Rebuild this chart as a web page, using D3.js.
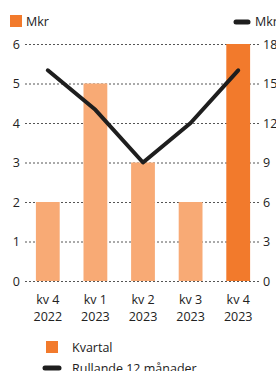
<!DOCTYPE html>
<html>
<head>
<meta charset="utf-8">
<script src="https://cdn.jsdelivr.net/npm/d3@7"></script>
<style>
  body { margin: 0; background: #fff; }
  text { font-family: "Open Sans", "Noto Sans", sans-serif; fill: #222; }
</style>
</head>
<body>
<div class="canvas"></div>
<script>
// chart data
const quarters = ['kv 4|2022', 'kv 1|2023', 'kv 2|2023', 'kv 3|2023', 'kv 4|2023'];
const quarterly = [2, 5, 3, 2, 6];      // Mkr, left axis
const rolling12 = [16, 13, 9, 12, 16];  // Mkr, right axis
const leftTicks = [0, 1, 2, 3, 4, 5, 6];
const rightTicks = [0, 3, 6, 9, 12, 15, 18];

const dims = { width: 276, height: 371 };
const plot = { top: 44, bottom: 281, left: 24, right: 262 };

const svg = d3.select('.canvas')
    .append('svg')
    .attr('width', dims.width)
    .attr('height', dims.height);

const x = d3.scaleBand()
    .domain(quarters)
    .range([plot.left, plot.right])
    .paddingInner(0.5)
    .paddingOuter(0.25);

const yL = d3.scaleLinear().domain([0, 6]).range([plot.bottom, plot.top]);
const yR = d3.scaleLinear().domain([0, 18]).range([plot.bottom, plot.top]);

// dotted grid lines
svg.append('g')
    .selectAll('line')
    .data(leftTicks)
    .join('line')
    .attr('x1', 25).attr('x2', 259)
    .attr('y1', d => yL(d) + 0.5).attr('y2', d => yL(d) + 0.5)
    .attr('stroke', '#555')
    .attr('stroke-width', 1)
    .attr('stroke-dasharray', '2,2');

// left tick labels
svg.append('g')
    .selectAll('text')
    .data(leftTicks)
    .join('text')
    .attr('x', 20)
    .attr('y', d => yL(d) + 4.5)
    .attr('text-anchor', 'end')
    .attr('font-size', 12.5)
    .text(d => d);

// right tick labels
svg.append('g')
    .selectAll('text')
    .data(rightTicks)
    .join('text')
    .attr('x', 263)
    .attr('y', d => yR(d) + 4.5)
    .attr('font-size', 12.5)
    .text(d => d);

// bars
svg.append('g')
    .selectAll('rect')
    .data(quarterly)
    .join('rect')
    .attr('x', (d, i) => x(quarters[i]))
    .attr('width', x.bandwidth())
    .attr('y', d => yL(d))
    .attr('height', d => yL(0) - yL(d))
    .attr('fill', (d, i) => i === quarterly.length - 1 ? '#F27A2C' : '#F8AA75');

// rolling line
const line = d3.line()
    .x((d, i) => x(quarters[i]) + x.bandwidth() / 2)
    .y(d => yR(d));

svg.append('path')
    .datum(rolling12)
    .attr('d', line)
    .attr('fill', 'none')
    .attr('stroke', '#1e1e1e')
    .attr('stroke-width', 4)
    .attr('stroke-linecap', 'round')
    .attr('stroke-linejoin', 'round');

// category labels
const cats = svg.append('g')
    .selectAll('text')
    .data(quarters)
    .join('text')
    .attr('text-anchor', 'middle')
    .attr('font-size', 12.5);
cats.append('tspan')
    .attr('x', d => x(d) + x.bandwidth() / 2)
    .attr('y', 304)
    .text(d => d.split('|')[0]);
cats.append('tspan')
    .attr('x', d => x(d) + x.bandwidth() / 2)
    .attr('y', 321)
    .text(d => d.split('|')[1]);

// axis unit headers
svg.append('rect').attr('x', 10).attr('y', 15).attr('width', 12).attr('height', 12).attr('fill', '#F27A2C');
svg.append('text').attr('x', 26).attr('y', 26).attr('font-size', 12.5).text('Mkr');
svg.append('line').attr('x1', 236).attr('x2', 248).attr('y1', 22).attr('y2', 22)
    .attr('stroke', '#1e1e1e').attr('stroke-width', 5).attr('stroke-linecap', 'round');
svg.append('text').attr('x', 255).attr('y', 26).attr('font-size', 12.5).text('Mkr');

// legend
svg.append('rect').attr('x', 46).attr('y', 341).attr('width', 12).attr('height', 12).attr('fill', '#F27A2C');
svg.append('text').attr('x', 72).attr('y', 352).attr('font-size', 12.5).text('Kvartal');
svg.append('line').attr('x1', 45).attr('x2', 59).attr('y1', 368).attr('y2', 368)
    .attr('stroke', '#1e1e1e').attr('stroke-width', 5).attr('stroke-linecap', 'round');
svg.append('text').attr('x', 72).attr('y', 373).attr('font-size', 12.5).text('Rullande 12 månader');
</script>
</body>
</html>
